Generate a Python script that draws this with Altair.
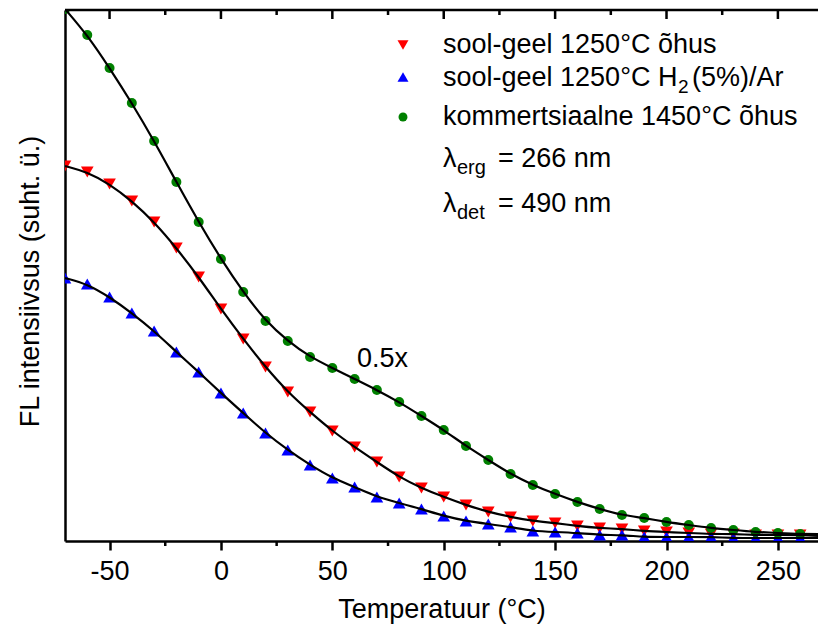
import altair as alt
import pandas as pd

FONT = "Liberation Sans"

# temperature (°C)
temps = [-70, -60, -50, -40, -30, -20, -10, 0, 10, 20, 30, 40, 50, 60, 70, 80, 90,
         100, 110, 120, 130, 140, 150, 160, 170, 180, 190, 200, 210, 220, 230, 240, 250, 260]
# relative FL intensity (arbitrary units)
red_vals = [375, 369, 357, 340, 319, 293, 264, 232, 202, 174, 149, 129, 110, 94, 79, 64, 53,
            44, 36, 29, 24, 20, 18, 15, 13, 12, 10, 9, 8, 7, 7, 6, 6, 6]
blue_vals = [263, 257, 244, 228, 210, 189, 169, 148, 128, 108, 91, 76, 63, 54, 44, 38, 32,
             25, 20, 17, 14, 10, 9, 8, 6, 6, 4, 4, 4, 4, 3, 3, 3, 3]
green_vals = [532, 506, 473, 438, 400, 359, 319, 282, 249, 220, 200, 184, 173, 162, 151, 139, 125,
              111, 95, 81, 67, 56, 47, 39, 32, 26, 23, 19, 16, 13, 11, 9, 8, 7]
# fitted curves: same readings plus the curve value read at the right edge
fit_end_x = 270
fit_end = {"red": 5, "blue": 3, "green": 7}

major_ticks = [-50, 0, 50, 100, 150, 200, 250]
minor_ticks = [-25, 25, 75, 125, 175, 225]

series = [("red", "triangle-down", "#ff0000", red_vals),
          ("blue", "triangle-up", "#0000ff", blue_vals),
          ("green", "circle", "#008000", green_vals)]

W, H = 753, 531
xscale = alt.Scale(domain=[-70, 268], nice=False, zero=False)
yscale = alt.Scale(domain=[0, 531], nice=False, zero=False)

xaxis = alt.Axis(
    values=major_ticks, tickSize=9, tickWidth=2.5, tickColor="black",
    domainWidth=2.5, domainColor="black", grid=False,
    labelFont=FONT, labelFontSize=27, labelColor="black", labelPadding=8,
    labelExpr="datum.value < 0 ? '-' + abs(datum.value) : '' + datum.value",
    title="Temperatuur (°C)", titleFont=FONT, titleFontSize=27,
    titleFontWeight="normal", titleColor="black", titleBaseline="alphabetic",
    titleY=76)
yaxis = alt.Axis(
    domain=True, domainWidth=2.5, domainColor="black", ticks=False, labels=False,
    grid=False, title="FL intensiivsus (suht. ü.)", titleFont=FONT, titleFontSize=27,
    titleFontWeight="normal", titleColor="black", titleAngle=270,
    titleBaseline="alphabetic", titleAlign="center", titleX=-27, titleY=271)

XE = alt.X("t:Q", scale=xscale, axis=xaxis)
YE = alt.Y("v:Q", scale=yscale, axis=yaxis)

rows = []
for name, shape, col, vals in series:
    for t, v in zip(temps, vals):
        rows.append({"s": name, "t": t, "v": v})
pts = pd.DataFrame(rows)

fit_rows = []
for name, shape, col, vals in series:
    for t, v in zip(temps + [fit_end_x], vals + [fit_end[name]]):
        fit_rows.append({"s": name, "t": t, "v": v})
fits = pd.DataFrame(fit_rows)

layers = []

for name, shape, col, vals in series:
    sz = 100 if shape == "circle" else 160
    layers.append(
        alt.Chart(pts[pts.s == name]).mark_point(
            shape=shape, filled=True, color=col, size=sz, opacity=1, clip=True
        ).encode(x=XE, y=YE)
    )

for name, shape, col, vals in series:
    layers.append(
        alt.Chart(fits[fits.s == name]).mark_line(
            color="black", strokeWidth=2.2, interpolate="basis", clip=True
        ).encode(x=XE, y=YE)
    )

# minor ticks bottom, ticks on top (inward) and top frame line
minor_df = pd.DataFrame({"t": minor_ticks})
major_df = pd.DataFrame({"t": major_ticks})
layers.append(alt.Chart(minor_df).mark_rule(color="black", strokeWidth=2.5).encode(
    x=XE, y=alt.value(H), y2=alt.value(H + 5)))
layers.append(alt.Chart(minor_df).mark_rule(color="black", strokeWidth=2.5).encode(
    x=XE, y=alt.value(0), y2=alt.value(5)))
layers.append(alt.Chart(major_df).mark_rule(color="black", strokeWidth=2.5).encode(
    x=XE, y=alt.value(0), y2=alt.value(9)))

one = pd.DataFrame({"a": [0]})
layers.append(alt.Chart(one).mark_rule(color="black", strokeWidth=2.5).encode(
    x=alt.value(0), x2=alt.value(W + 5), y=alt.value(0)))


def txt(s, x, y, size=27):
    return alt.Chart(one).mark_text(
        text=s, font=FONT, fontSize=size, align="left", baseline="alphabetic", color="black"
    ).encode(x=alt.value(x), y=alt.value(y))


def sym(shape, col, x, y):
    sz = 80 if shape == "circle" else 120
    return alt.Chart(one).mark_point(
        shape=shape, filled=True, color=col, size=sz, opacity=1
    ).encode(x=alt.value(x), y=alt.value(y))


layers += [
    sym("triangle-down", "#ff0000", 338, 35),
    txt("sool-geel 1250°C õhus", 378, 43),
    sym("triangle-up", "#0000ff", 338, 67),
    txt("sool-geel 1250°C H", 378, 76),
    txt("2", 613, 83, 19),
    txt("(5%)/Ar", 627, 76),
    sym("circle", "#008000", 338, 107),
    txt("kommertsiaalne 1450°C õhus", 378, 115),
    txt("λ", 378, 157),
    txt("erg", 392, 164, 20),
    txt("= 266 nm", 433, 157),
    txt("λ", 378, 202),
    txt("det", 392, 209, 20),
    txt("= 490 nm", 433, 202),
    txt("0.5x", 292, 357),
]

chart = alt.layer(*layers).properties(
    width=W, height=H,
    autosize=alt.AutoSizeParams(type="none"),
    padding={"left": 65, "top": 10, "right": 0, "bottom": 87},
    background="white",
).configure_view(stroke=None)

chart.save("out.html", embed_options={"renderer": "svg", "actions": False})
